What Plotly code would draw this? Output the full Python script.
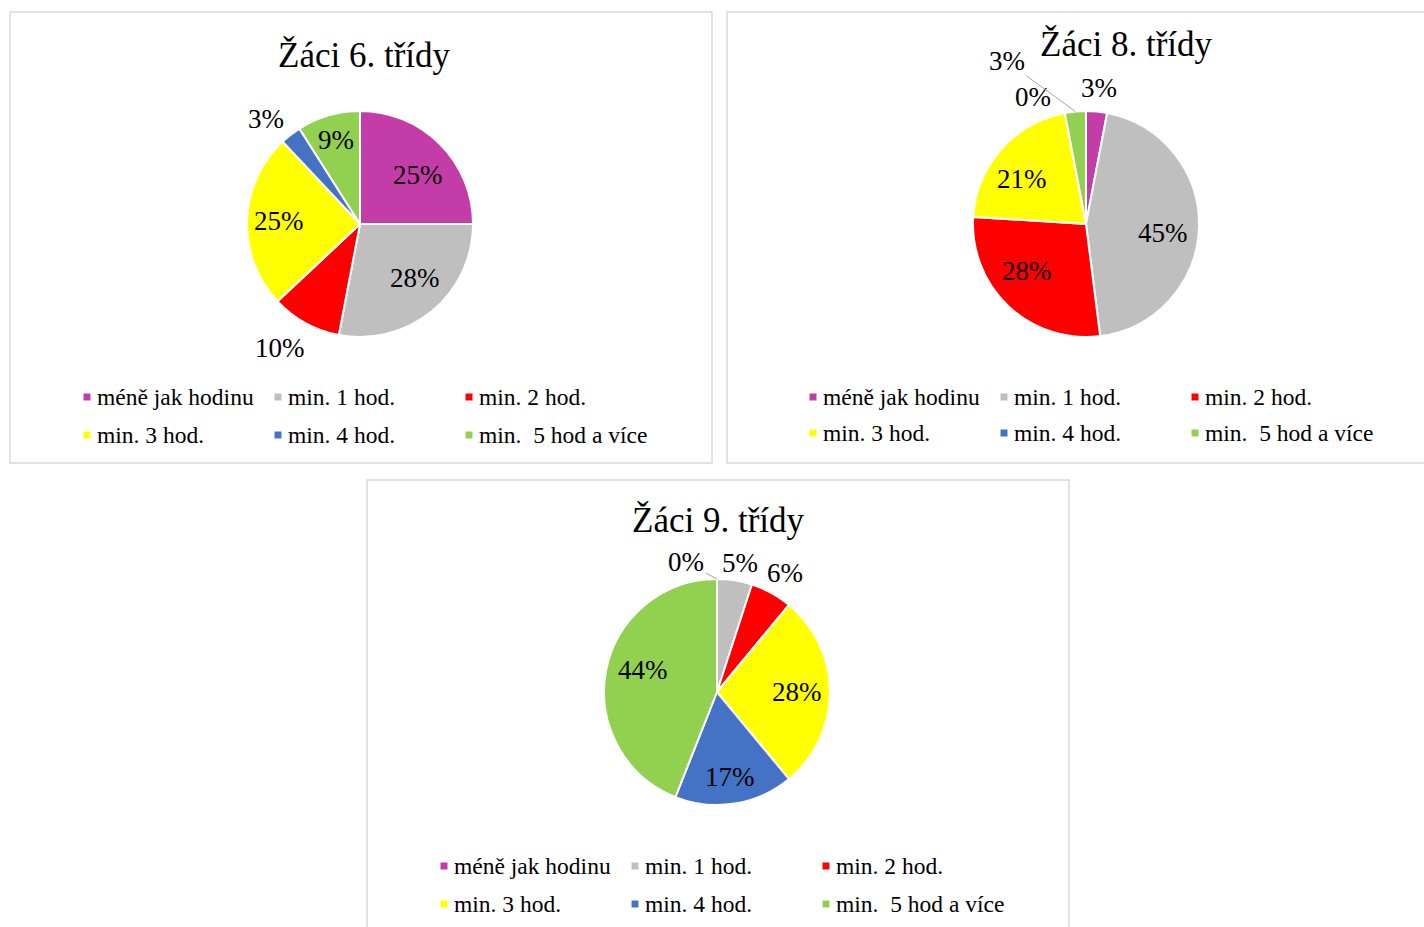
import math
import plotly.graph_objects as go

# ---------------- data ----------------
categories = ["méně jak hodinu", "min. 1 hod.", "min. 2 hod.", "min. 3 hod.", "min. 4 hod.", "min.\u00a0 5 hod a více"]
titles = ["Žáci 6. třídy", "Žáci 8. třídy", "Žáci 9. třídy"]
values6 = [25, 28, 10, 25, 3, 9]
values8 = [3, 45, 28, 21, 0, 3]
values9 = [0, 5, 6, 28, 17, 44]

# ---------------- style ----------------
colors = ["#C43CA8", "#BFBFBF", "#FF0000", "#FFFF00", "#4472C4", "#92D050"]
W, H = 1424, 927
FONT = "Liberation Serif"
TITLE_SIZE = 35
LABEL_SIZE = 27
LEGEND_SIZE = 23.5

# pixel geometry of each chart panel
panels = [
    dict(values=values6, box=(10, 12, 712, 463), center=(360, 224), r=113, title_xy=(365, 55),
         leg_x=(87, 278, 469), leg_y=(397, 435),
         # (radial factor, angle offset deg, leader?)
         lab=[(0.67, 5, False), (0.68, -6, False), (1.31, 4, False), (0.72, 0, False), (1.25, -4, False), (0.77, 0, False)]),
    dict(values=values8, box=(727, 12, 1440, 463), center=(1086, 224), r=113, title_xy=(1126, 45),
         leg_x=(813, 1004, 1195), leg_y=(397, 433),
         lab=[(1.21, 0, False), (0.69, 5, False), (0.67, 8, False), (0.69, -6.5, False), (1.22, -12, False), (1.6, -20.6, True)]),
    dict(values=values9, box=(367, 480, 1069, 940), center=(717, 692), r=113, title_xy=(718, 520),
         leg_x=(444, 635, 826), leg_y=(866, 904),
         lab=[(1.18, -13.4, True), (1.16, 1, False), (1.21, 1, False), (0.71, 0, False), (0.76, 0, False), (0.68, 6, False)]),
]


def px(x):
    return x / W


def py(y):
    return 1 - y / H


fig = go.Figure()
shapes = []
annotations = []

for n, p in enumerate(panels):
    x0, y0, x1, y1 = p["box"]
    shapes.append(dict(type="rect", xref="paper", yref="paper", x0=px(x0), x1=px(x1), y0=py(y0), y1=py(y1),
                       line=dict(color="#D9D9D9", width=1.5), fillcolor="rgba(0,0,0,0)", layer="below"))
    cx, cy = p["center"]
    r = p["r"]
    fig.add_trace(go.Pie(
        values=p["values"], labels=categories, sort=False, direction="clockwise", rotation=0,
        marker=dict(colors=colors, line=dict(color="white", width=2)),
        textinfo="none", showlegend=False, hoverinfo="label+percent",
        domain=dict(x=[px(cx - r), px(cx + r)], y=[py(cy + r), py(cy - r)]),
    ))
    # title
    annotations.append(dict(text=titles[n], x=px(p["title_xy"][0]), y=py(p["title_xy"][1]),
                            xref="paper", yref="paper", showarrow=False, xanchor="center", yanchor="middle",
                            font=dict(family=FONT, size=TITLE_SIZE, color="#000000")))
    # data labels
    vals = p["values"]
    total = sum(vals)
    cum = 0
    for i, v in enumerate(vals):
        mid = (cum + v / 2) / total * 360
        cum += v
        k, dth, leader = p["lab"][i]
        ang = math.radians(mid + dth)
        lx = cx + r * k * math.sin(ang)
        ly = cy - r * k * math.cos(ang)
        txt = f"{round(v / total * 100)}%"
        if leader:
            a0 = math.radians(mid)
            tx = cx + r * math.sin(a0)
            ty = cy - r * math.cos(a0)
            annotations.append(dict(text=txt, x=px(tx), y=py(ty), xref="paper", yref="paper",
                                    showarrow=True, arrowhead=0, arrowwidth=1, arrowcolor="#A6A6A6",
                                    ax=lx - tx, ay=ly - ty, standoff=0,
                                    font=dict(family=FONT, size=LABEL_SIZE, color="#000000")))
        else:
            annotations.append(dict(text=txt, x=px(lx), y=py(ly), xref="paper", yref="paper",
                                    showarrow=False, xanchor="center", yanchor="middle",
                                    font=dict(family=FONT, size=LABEL_SIZE, color="#000000")))
    # legend
    for i, cat in enumerate(categories):
        mx = p["leg_x"][i % 3]
        my = p["leg_y"][i // 3]
        shapes.append(dict(type="rect", xref="paper", yref="paper", x0=px(mx - 3.5), x1=px(mx + 3.5),
                           y0=py(my + 3.5), y1=py(my - 3.5), line=dict(width=0), fillcolor=colors[i]))
        annotations.append(dict(text=cat, x=px(mx + 8), y=py(my), xref="paper", yref="paper",
                                showarrow=False, xanchor="left", yanchor="middle",
                                font=dict(family=FONT, size=LEGEND_SIZE, color="#000000")))

fig.update_layout(
    width=W, height=H, autosize=False,
    margin=dict(l=0, r=0, t=0, b=0),
    paper_bgcolor="white", plot_bgcolor="white",
    shapes=shapes, annotations=annotations,
)

fig.write_html("out.html", config={"displayModeBar": False},
               post_script="document.body.style.margin='0';document.body.style.overflow='hidden';")
